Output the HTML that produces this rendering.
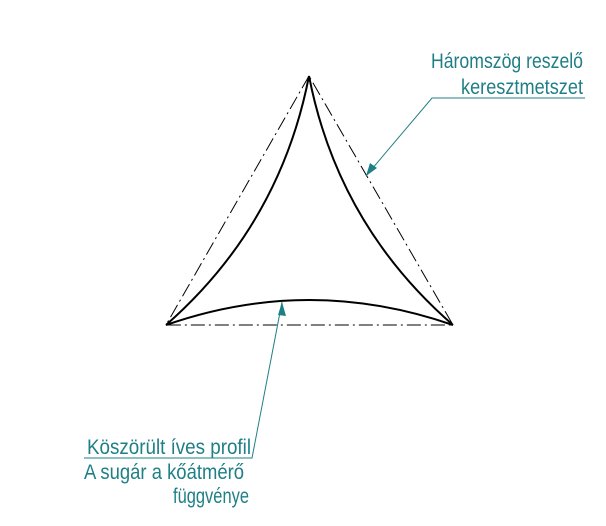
<!DOCTYPE html>
<html><head><style>
body{margin:0;background:#fff;width:606px;height:521px;overflow:hidden}
text{font-family:"Liberation Sans",sans-serif;font-size:21px;fill:#1f7f86}
</style></head><body>
<svg width="606" height="521" viewBox="0 0 606 521">
<g stroke="#000" stroke-width="1" fill="none" stroke-dasharray="14,4,2,4">
<path d="M309,76 L166,325 L453,325 Z"/>
</g>
<g stroke="#000" stroke-width="2" fill="none">
<path d="M309,76 Q280,225 166,325"/>
<path d="M309,76 Q338,225 453,325"/>
<path d="M166,325 Q309,275 453,325"/>
</g>
<g stroke="#1f7f86" stroke-width="1" fill="none">
<polyline points="585,98 432,98 366,176"/>
<polyline points="84,458 252,458 282,302"/>
</g>
<polygon points="366,176 370,163 377,168" fill="#1f7f86"/>
<polygon points="282,302 278,315 286,316" fill="#1f7f86"/>
<text x="583" y="68" text-anchor="end" textLength="152" lengthAdjust="spacingAndGlyphs">Háromszög reszelő</text>
<text x="583" y="94" text-anchor="end" textLength="122" lengthAdjust="spacingAndGlyphs">keresztmetszet</text>
<text x="87" y="454" textLength="164" lengthAdjust="spacingAndGlyphs">Köszörült íves profil</text>
<text x="84" y="479" textLength="160" lengthAdjust="spacingAndGlyphs">A sugár a kőátmérő</text>
<text x="173" y="503" textLength="76" lengthAdjust="spacingAndGlyphs">függvénye</text>
</svg>
</body></html>
